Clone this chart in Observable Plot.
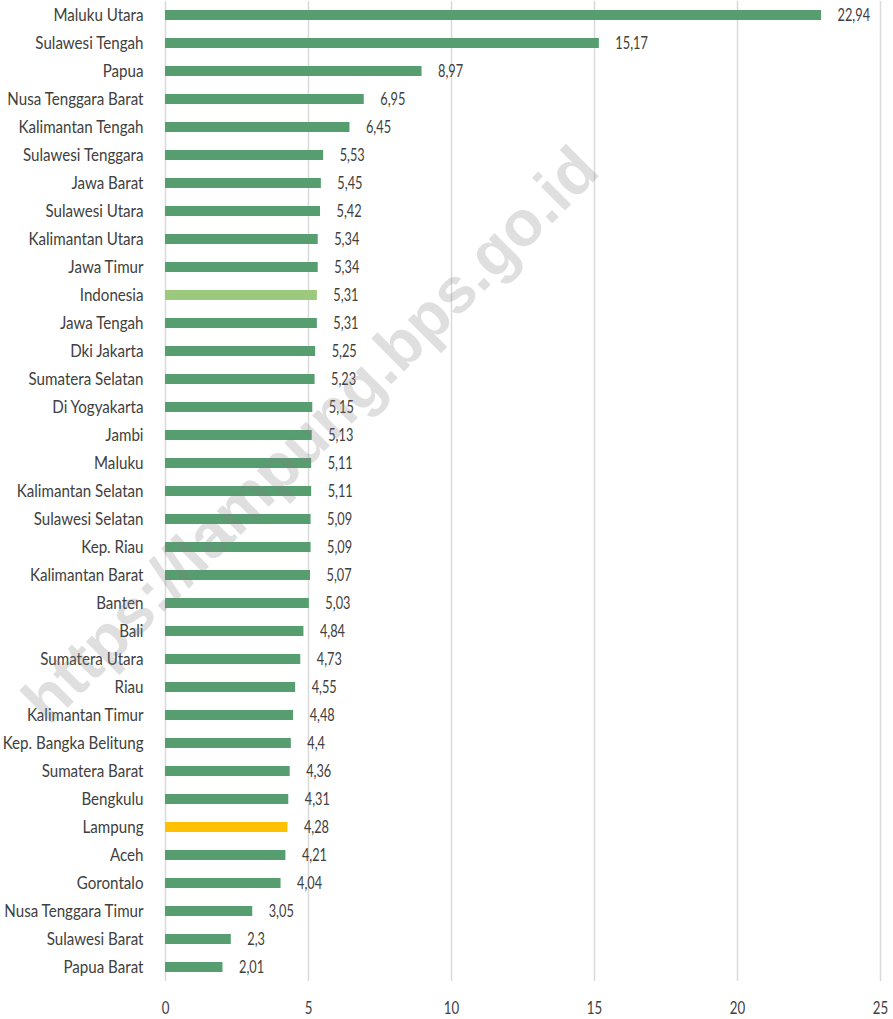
<!DOCTYPE html>
<html>
<head>
<meta charset="utf-8">
<script src="https://cdn.jsdelivr.net/npm/d3@7"></script>
<script src="https://cdn.jsdelivr.net/npm/@observablehq/plot@0.6"></script>
<style>
  html, body { margin: 0; padding: 0; background: #fff; }
  #chart svg { display: block; }
</style>
</head>
<body>
<div id="chart"></div>
<script>
// Provinces, top to bottom, with their values
const provinces = [
  "Maluku Utara", "Sulawesi Tengah", "Papua", "Nusa Tenggara Barat", "Kalimantan Tengah",
  "Sulawesi Tenggara", "Jawa Barat", "Sulawesi Utara", "Kalimantan Utara", "Jawa Timur",
  "Indonesia", "Jawa Tengah", "Dki Jakarta", "Sumatera Selatan", "Di Yogyakarta",
  "Jambi", "Maluku", "Kalimantan Selatan", "Sulawesi Selatan", "Kep. Riau",
  "Kalimantan Barat", "Banten", "Bali", "Sumatera Utara", "Riau",
  "Kalimantan Timur", "Kep. Bangka Belitung", "Sumatera Barat", "Bengkulu", "Lampung",
  "Aceh", "Gorontalo", "Nusa Tenggara Timur", "Sulawesi Barat", "Papua Barat"
];
const values = [
  22.94, 15.17, 8.97, 6.95, 6.45,
  5.53, 5.45, 5.42, 5.34, 5.34,
  5.31, 5.31, 5.25, 5.23, 5.15,
  5.13, 5.11, 5.11, 5.09, 5.09,
  5.07, 5.03, 4.84, 4.73, 4.55,
  4.48, 4.4, 4.36, 4.31, 4.28,
  4.21, 4.04, 3.05, 2.3, 2.01
];
const xTicks = [0, 5, 10, 15, 20, 25];
const watermark = "https://lampung.bps.go.id";

const colorDefault = "#569E70";
const colorNational = "#9DC97E";
const colorLampung = "#FFC000";

const rows = provinces.map((name, i) => ({
  name,
  value: values[i],
  color: name === "Indonesia" ? colorNational : name === "Lampung" ? colorLampung : colorDefault
}));

const fmt = v => String(v).replace(".", ",");
const font = "Lato, 'Open Sans', sans-serif";

const chart = Plot.plot({
  width: 893,
  height: 1019,
  marginLeft: 165,
  marginRight: 13,
  marginTop: 1,
  marginBottom: 38,
  style: { fontFamily: font, fontSize: "17px", color: "#404040", background: "#fff" },
  x: { domain: [0, 25], ticks: xTicks },
  y: { domain: provinces, paddingInner: 0.64, paddingOuter: 0.32 },
  marks: [
    Plot.ruleX(xTicks, { stroke: "#d9d9d9", strokeWidth: 1.5 }),
    Plot.barX(rows, { x: "value", y: "name", fill: "color" }),
    Plot.text(rows, {
      x: "value", y: "name", text: d => fmt(d.value),
      textAnchor: "start", dx: 16, fill: "#404040", fontSize: 17
    }),
    Plot.axisY({ tickSize: 0, tickPadding: 22, label: null, fontSize: 17 }),
    Plot.axisX({ ticks: xTicks, tickSize: 0, tickPadding: 20, label: null, fontSize: 17 }),
    Plot.text([watermark], {
      text: d => d, frameAnchor: "middle", dx: -212, dy: -56, rotate: -45,
      fontSize: 64, fontWeight: "bold", fontFamily: "'Liberation Sans', Arial, sans-serif",
      fill: "#808080", fillOpacity: 0.25
    })
  ]
});

// Squeeze labels horizontally around their anchor points for a condensed look
function condense(elements, k) {
  elements.forEach(el => {
    let t = el.getAttribute("transform");
    if (!t) {
      const x = el.getAttribute("x") || 0, y = el.getAttribute("y") || 0;
      el.removeAttribute("x"); el.removeAttribute("y");
      t = `translate(${x},${y})`;
    }
    el.setAttribute("transform", `${t} scale(${k},1)`);
  });
}
const sel = s => Array.from(chart.querySelectorAll(s));
condense(sel('g[aria-label="y-axis tick label"] text'), 0.89);
condense(sel('g[aria-label="x-axis tick label"] text'), 0.78);
condense(sel('g[aria-label="text"] text').filter(el => el.textContent !== watermark), 0.75);

document.getElementById("chart").appendChild(chart);
</script>
</body>
</html>
